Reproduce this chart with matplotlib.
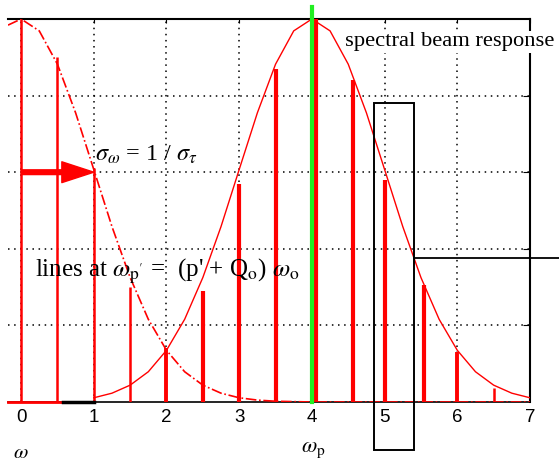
import matplotlib
matplotlib.use("Agg")
import matplotlib.pyplot as plt
from matplotlib.patches import Rectangle

# spectral lines (positions and heights)
line_x = [0.0, 0.5, 1.0, 1.5, 2.0, 2.5, 3.0, 3.5, 4.06, 4.56, 5.0, 5.54, 6.0, 6.5]
line_h = [1.0, 0.90, 0.61, 0.30, 0.14, 0.29, 0.57, 0.87, 1.0, 0.84, 0.58, 0.305, 0.13, 0.037]
line_w = [1.8, 1.8, 1.8, 1.8, 2.8, 3.0, 3.0, 3.0, 3.0, 3.0, 3.0, 3.0, 2.8, 1.8]

# spectral beam response (solid) read at 0.25 steps
resp_x = [1.0, 1.25, 1.5, 1.75, 2.0, 2.25, 2.5, 2.75, 3.0, 3.25, 3.5, 3.75, 4.0,
          4.25, 4.5, 4.75, 5.0, 5.25, 5.5, 5.75, 6.0, 6.25, 6.5, 6.75, 7.0]
resp_y = [0.011, 0.023, 0.044, 0.079, 0.135, 0.216, 0.325, 0.458, 0.607, 0.755, 0.882, 0.969, 1.0,
          0.969, 0.882, 0.755, 0.607, 0.458, 0.325, 0.216, 0.135, 0.079, 0.044, 0.023, 0.011]

# bunch spectrum around zero (dash-dot)
bunch_x = [-0.18, 0.0, 0.25, 0.5, 0.75, 1.0, 1.25, 1.5, 1.75, 2.0, 2.25, 2.5, 2.75, 3.0,
           3.25, 3.5, 4.0, 5.0, 6.0, 7.0]
bunch_y = [0.984, 1.0, 0.969, 0.882, 0.755, 0.607, 0.458, 0.325, 0.216, 0.135, 0.079, 0.044, 0.023, 0.011,
           0.005, 0.002, 0.0, 0.0, 0.0, 0.0]

x_ticks = [0, 1, 2, 3, 4, 5, 6, 7]
y_grid = [0.2, 0.4, 0.6, 0.8]

plt.rcParams['mathtext.fontset'] = 'stix'

fig = plt.figure(figsize=(5.59, 4.66), dpi=100)
ax = fig.add_axes([8/559, 64/466, 522/559, 383/466])
ax.set_xlim(-0.18, 7.0)
ax.set_ylim(0, 1.0)

dots = (0, (1, 3))
for gx in range(0, 7):
    ax.axvline(gx, color='black', lw=1.1, ls=dots, zorder=1)
for gy in y_grid:
    ax.axhline(gy, color='black', lw=1.1, ls=dots, zorder=1)

ax.plot(bunch_x, bunch_y, color='red', lw=1.2, ls='-.', zorder=3)
ax.plot(resp_x, resp_y, color='red', lw=1.0, zorder=3)
for x, h, w in zip(line_x, line_h, line_w):
    ax.vlines(x, 0, h, color='red', lw=w, zorder=4)

# centre of the beam response
ax.plot([4.0, 4.0], [0, 1.031], color='#22ee22', lw=3, zorder=5, clip_on=False)

# bottom axis: red stub on the left, black elsewhere
ax.plot([-0.18, 0.58], [0, 0], color='red', lw=2, zorder=6, clip_on=False)
ax.plot([0.58, 1.0], [0, 0], color='black', lw=2.5, zorder=6, clip_on=False)

# box around the line near 5 and the marker line going off to the right
ax.add_patch(Rectangle((4.86, -0.125), 0.54, 0.905, fill=False, ec='black', lw=1.4,
                       zorder=7, clip_on=False))
ax.plot([5.40, 7.41], [0.375, 0.375], color='black', lw=1.3, zorder=7, clip_on=False)

ax.annotate('', xy=(1.0, 0.6), xytext=(0.01, 0.6),
            arrowprops=dict(arrowstyle='simple,head_length=1.15,head_width=0.75,tail_width=0.17',
                            color='red', shrinkA=0, shrinkB=0, mutation_scale=20), zorder=8)

ax.text(4.46, 0.94, 'spectral beam response', fontsize=16.2, family='Liberation Serif',
        ha='left', va='center', zorder=9,
        bbox=dict(facecolor='white', edgecolor='none', pad=1))
ax.text(1.02, 0.645, r'$\sigma_\omega$ = 1 / $\sigma_\tau$', fontsize=17.5,
        family='Liberation Serif', ha='left', va='center', zorder=9)
ax.text(0.19, 0.34, r"lines at $\omega_{\mathrm{p'}}$ =  (p' + Q$_\mathrm{o}$) $\omega_\mathrm{o}$",
        fontsize=18, family='Liberation Serif', ha='left', va='center', zorder=9)

ax.text(0.0, -0.13, r'$\omega$', fontsize=15, ha='center', va='center')
ax.text(4.02, -0.125, r'$\omega_\mathrm{p}$', fontsize=16, ha='center', va='center')

ax.spines['left'].set_visible(False)
ax.spines['bottom'].set_color('black')
ax.spines['top'].set_linewidth(1.5)
ax.spines['right'].set_linewidth(1.5)
ax.spines['bottom'].set_linewidth(1.2)

ax.set_xticks(x_ticks)
ax.set_xticklabels([str(t) for t in x_ticks], fontsize=13.5, family='Liberation Sans')
ax.tick_params(axis='x', top=True, bottom=False, direction='in', length=3, pad=5)
ax.set_yticks(y_grid)
ax.tick_params(axis='y', left=False, right=True, labelleft=False, direction='in', length=5)

fig.savefig('out.png', dpi=100)
